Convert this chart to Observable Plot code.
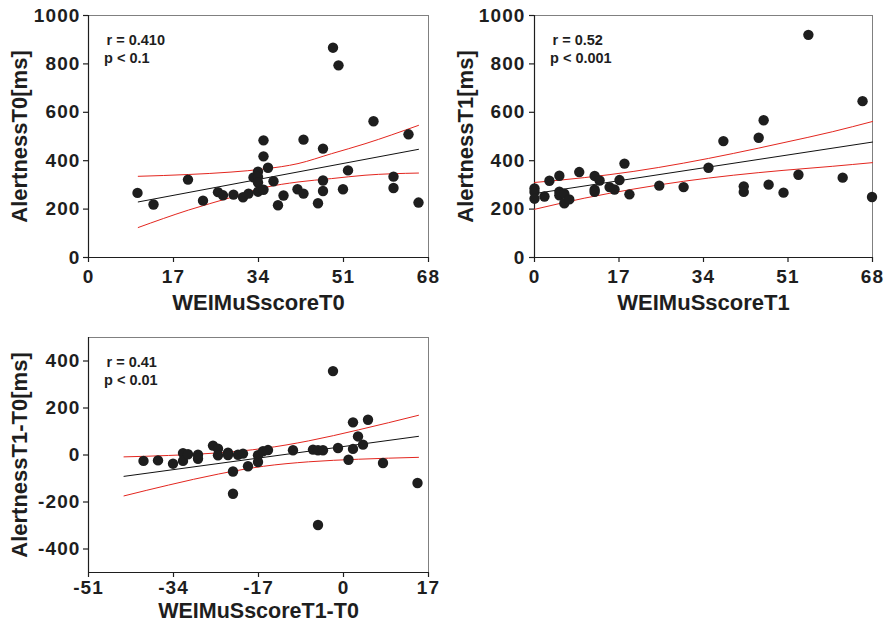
<!DOCTYPE html>
<html>
<head>
<meta charset="utf-8">
<script src="https://cdn.jsdelivr.net/npm/d3@7"></script>
<script src="https://cdn.jsdelivr.net/npm/@observablehq/plot@0.6"></script>
<style>
  html, body { margin: 0; padding: 0; background: #fff; }
  #wrap { position: relative; width: 888px; height: 623px; overflow: hidden; }
  #wrap svg { position: absolute; }
  #wrap g[aria-label$="tick label"] text { letter-spacing: 1.1px; }
  #wrap g[aria-label="stats"] text { letter-spacing: 1px; }
  #wrap g[aria-label="title"] text { letter-spacing: 0.3px; }
</style>
</head>
<body>
<div id="wrap"></div>
<script>
// ---------- Panel 1: WEIMuSscoreT0 vs AlertnessT0 ----------
const x1 = [9.8, 13.0, 19.9, 22.9, 25.9, 26.9, 29.0, 30.9, 32.0, 33.0, 33.9, 33.9, 33.9, 33.9, 35.0, 35.0, 35.0, 35.9, 37.0, 37.9, 39.0, 41.8, 43.0, 43.0, 45.9, 46.9, 46.9, 46.9, 48.9, 50.0, 50.9, 51.9, 57.0, 61.0, 61.0, 64.0, 66.0];
const y1 = [267, 219, 322, 235, 270, 257, 260, 249, 264, 331, 355, 333, 310, 272, 484, 418, 280, 371, 315, 216, 256, 282, 487, 264, 224, 450, 318, 275, 867, 794, 282, 360, 563, 334, 287, 509, 227];
const fitX1 = [9.95, 66];
const fitY1 = [229.6, 447];
const ciX1 = [9.95, 20, 28.5, 35.2, 41.9, 48.6, 55.3, 66];
const ciUp1 = [335.5, 343, 353, 366, 388, 429, 470, 546];
const ciLo1 = [124, 196, 248, 289, 312, 326, 340, 349];
const stats1 = ["r = 0.410", "p < 0.1"];
const xTitle1 = "WEIMuSscoreT0";
const yTitle1 = "AlertnessT0[ms]";

// ---------- Panel 2: WEIMuSscoreT1 vs AlertnessT1 ----------
const x2 = [0, 0, 0, 2.0, 3.0, 5.0, 5.0, 5.0, 6.0, 6.0, 7.0, 9.0, 12.1, 12.1, 12.1, 13.1, 15.1, 16.1, 17.1, 18.1, 19.1, 25.1, 30.0, 35.0, 38.0, 42.1, 42.1, 45.1, 46.1, 47.1, 50.1, 53.1, 55.1, 62.0, 66.0, 67.9];
const y2 = [285, 271, 243, 252, 317, 338, 272, 257, 264, 224, 240, 353, 337, 280, 271, 318, 291, 281, 320, 388, 261, 297, 291, 371, 481, 294, 271, 495, 567, 301, 268, 342, 920, 330, 646, 250];
const fitX2 = [0, 68];
const fitY2 = [264, 477];
const ciX2 = [0, 10, 20, 30, 40, 50, 60, 68];
const ciUp2 = [310, 330, 356, 390, 430, 474, 520, 562];
const ciLo2 = [199, 245, 283, 315, 340, 360, 377, 392];
const stats2 = ["r = 0.52", "p < 0.001"];
const xTitle2 = "WEIMuSscoreT1";
const yTitle2 = "AlertnessT1[ms]";

// ---------- Panel 3: WEIMuSscoreT1-T0 vs AlertnessT1-T0 ----------
const x3 = [-40.0, -37.1, -34.1, -32.1, -32.1, -31.1, -29.1, -29.1, -26.1, -25.1, -25.1, -23.1, -23.1, -22.1, -22.1, -21.1, -20.1, -19.1, -17.1, -17.1, -16.1, -15.1, -10.1, -6.1, -5.1, -5.1, -4.1, -2.1, -1.1, 1.0, 1.9, 1.9, 2.9, 3.9, 4.9, 7.9, 14.8];
const y3 = [-25, -23, -37, 8, -25, 3, 1, -16, 40, 27, -1, 10, 0, -70, -165, 1, 6, -48, -1, -30, 16, 21, 20, 23, 20, -298, 20, 357, 30, -20, 139, 26, 79, 44, 150, -34, -119];
const fitX3 = [-43.9, 15];
const fitY3 = [-90.8, 79.4];
const ciX3 = [-43.9, -35, -25, -16, -7, 3, 15];
const ciUp3 = [-8, -2, 9, 28, 60, 107, 169];
const ciLo3 = [-174, -128, -81, -48, -29, -18, -10];
const stats3 = ["r = 0.41", "p < 0.01"];
const xTitle3 = "WEIMuSscoreT1-T0";
const yTitle3 = "AlertnessT1-T0[ms]";

// ---------- Axes ----------
const xTicksA = [0, 17, 34, 51, 68];
const yTicksA = [0, 200, 400, 600, 800, 1000];
const xDomainA = [0, 68];
const yDomainA = [0, 1000];
const xTicksB = [-51, -34, -17, 0, 17];
const yTicksB = [-400, -200, 0, 200, 400];
const xDomainB = [-51, 17];
const yDomainB = [-500, 500];

const FONT = "'Liberation Sans', Arial, Helvetica, sans-serif";
const RED = "#e3261f";
const INK = "#1e1e1e";

function pts(xs, ys) { return xs.map((x, i) => ({x, y: ys[i]})); }

function panel(o) {
  return Plot.plot({
    width: 444,
    height: o.height,
    marginLeft: o.marginLeft,
    marginRight: o.marginRight,
    marginTop: o.marginTop,
    marginBottom: o.marginBottom,
    style: {fontFamily: FONT, fontSize: "19px", fontWeight: "bold", color: INK, background: "white", overflow: "visible"},
    x: {domain: o.xDomain},
    y: {domain: o.yDomain},
    marks: [
      Plot.frame({stroke: "#808080", strokeWidth: 1}),
      Plot.ruleX([o.xDomain[0]], {stroke: INK, strokeWidth: 1.2}),
      Plot.ruleY([o.yDomain[0]], {stroke: INK, strokeWidth: 1.2}),
      Plot.axisX(o.xTicks, {tickSize: 5, tickPadding: o.xPad, label: null, tickFormat: d => String(d), stroke: INK, strokeWidth: 1.2}),
      Plot.axisY(o.yTicks, {tickSize: 5, tickPadding: o.yPad, label: null, tickFormat: d => String(d), stroke: INK, strokeWidth: 1.2}),
      Plot.line(pts(o.ciX, o.ciUp), {x: "x", y: "y", stroke: RED, strokeWidth: 1, curve: "monotone-x"}),
      Plot.line(pts(o.ciX, o.ciLo), {x: "x", y: "y", stroke: RED, strokeWidth: 1, curve: "monotone-x"}),
      Plot.line(pts(o.fitX, o.fitY), {x: "x", y: "y", stroke: "#111", strokeWidth: 1}),
      Plot.dot(pts(o.xs, o.ys), {x: "x", y: "y", r: 5.2, fill: INK, stroke: "none"}),
      Plot.text([o.stats[0]], {ariaLabel: "stats", frameAnchor: "top-left", textAnchor: "start", lineAnchor: "middle", dx: 18, dy: 25, fontSize: 14.5, fill: INK}),
      Plot.text([o.stats[1]], {ariaLabel: "stats", frameAnchor: "top-left", textAnchor: "start", lineAnchor: "middle", dx: 15.5, dy: 43, fontSize: 14.5, fill: INK}),
      Plot.text([o.yTitle], {ariaLabel: "title", frameAnchor: "left", rotate: -90, textAnchor: "middle", lineAnchor: "middle", dx: -69, fontSize: 22, fill: INK}),
      Plot.text([o.xTitle], {ariaLabel: "title", frameAnchor: "bottom", textAnchor: "middle", lineAnchor: "bottom", dy: o.xTitleDy, fontSize: o.xTitleSize, fill: INK})
    ]
  });
}

const wrap = document.getElementById("wrap");

const p1 = panel({
  xs: x1, ys: y1, fitX: fitX1, fitY: fitY1, ciX: ciX1, ciUp: ciUp1, ciLo: ciLo1,
  stats: stats1, xTitle: xTitle1, yTitle: yTitle1,
  xDomain: xDomainA, yDomain: yDomainA, xTicks: xTicksA, yTicks: yTicksA,
  height: 315, marginLeft: 88, marginRight: 16, marginTop: 15, marginBottom: 58, xPad: 7, yPad: 3, xTitleDy: 52, xTitleSize: 22
});
p1.style.left = "0px"; p1.style.top = "0px";
wrap.appendChild(p1);

const p2 = panel({
  xs: x2, ys: y2, fitX: fitX2, fitY: fitY2, ciX: ciX2, ciUp: ciUp2, ciLo: ciLo2,
  stats: stats2, xTitle: xTitle2, yTitle: yTitle2,
  xDomain: xDomainA, yDomain: yDomainA, xTicks: xTicksA, yTicks: yTicksA,
  height: 315, marginLeft: 90, marginRight: 16, marginTop: 15, marginBottom: 58, xPad: 7, yPad: 4, xTitleDy: 52, xTitleSize: 22
});
p2.style.left = "444px"; p2.style.top = "0px";
wrap.appendChild(p2);

const p3 = panel({
  xs: x3, ys: y3, fitX: fitX3, fitY: fitY3, ciX: ciX3, ciUp: ciUp3, ciLo: ciLo3,
  stats: stats3, xTitle: xTitle3, yTitle: yTitle3,
  xDomain: xDomainB, yDomain: yDomainB, xTicks: xTicksB, yTicks: yTicksB,
  height: 303, marginLeft: 88, marginRight: 16, marginTop: 17, marginBottom: 51, xPad: 3, yPad: 3, xTitleDy: 45.5, xTitleSize: 21.5
});
p3.style.left = "0px"; p3.style.top = "320px";
wrap.appendChild(p3);
</script>
</body>
</html>
